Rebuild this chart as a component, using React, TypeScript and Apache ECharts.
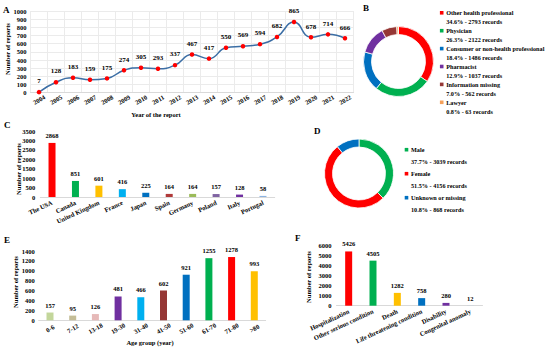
import React, { useEffect, useRef } from "react";
import * as echarts from "echarts";

const years = ["2004","2005","2006","2007","2008","2009","2010","2011","2012","2013","2014","2015","2016","2017","2018","2019","2020","2021","2022"];
const yearReports = [7,128,183,159,175,274,305,293,337,467,417,550,569,594,682,865,678,714,666];

const reporterTypes = ["Other health professional","Physician","Consumer or non-health professional","Pharmacist","Information missing","Lawyer"];
const reporterCounts = [2793,2122,1486,1037,562,63];
const reporterColors = ["#FF0000","#00B050","#0070C0","#7030A0","#953735","#F5A05A"];

const countries = ["The USA","Canada","United Kingdom","France","Japan","Spain","Germany","Poland","Italy","Portugal"];
const countryReports = [2868,851,601,416,225,164,164,157,128,58];
const countryColors = ["#FF0000","#00B050","#FFC000","#00B0F0","#0070C0","#B03A3A","#9BBB59","#8064A2","#7030A0","#8DB4E2"];

const sexes = ["Male","Female","Unknown or missing"];
const sexReports = [3039,4156,868];
const sexColors = ["#00B050","#FF0000","#0070C0"];

const ageGroups = ["0-6","7-12","13-18","19-30","31-40","41-50","51-60","61-70","71-80",">80"];
const ageReports = [157,95,126,481,466,602,921,1255,1278,993];
const ageColors = ["#C3D69B","#C4BD97","#E6B9B8","#7030A0","#00B0F0","#953735","#0070C0","#00B050","#FF0000","#FFC000"];

const outcomes = ["Hospitalization","Other serious condition","Death","Life threatening condition","Disability","Congenital anomaly"];
const outcomeReports = [5426,4505,1282,758,280,12];
const outcomeColors = ["#FF0000","#00B050","#FFC000","#0070C0","#7030A0","#9DC3E6"];

const FONT = '"Liberation Serif", "Times New Roman", serif';
const FS = 6.5;
const lbl = { fontFamily: FONT, fontWeight: "bold" as const, fontSize: FS, color: "#000" };
const font = (s: number) => `bold ${s}px ${FONT}`;
const plain = (v: number) => String(v);

function txt(text: string, x: number, y: number, size = FS, align = "left", rotation = 0) {
  return {
    type: "text", x, y, rotation, silent: true,
    style: { text, x: 0, y: 0, font: font(size), fill: "#000", align, verticalAlign: "middle" },
  };
}

function legend(names: string[], values: number[], colors: string[], sqX: number, y0: number, step: number, lineGap: number) {
  const total = values.reduce((a, b) => a + b, 0);
  const els: any[] = [];
  names.forEach((n, i) => {
    const y = y0 + i * step;
    els.push({ type: "rect", silent: true, shape: { x: sqX - 1.8, y: y - 1.8, width: 3.6, height: 3.6 }, style: { fill: colors[i] } });
    els.push(txt(n, sqX + 4.5, y, 6.2));
    els.push(txt(`${((values[i] / total) * 100).toFixed(1)}% - ${values[i]} records`, sqX + 4.5, y + lineGap, 6.2));
  });
  return els;
}

export default function App() {
  const ref = useRef<HTMLDivElement>(null);
  useEffect(() => {
    document.body.style.margin = "0";
    const chart = echarts.init(ref.current!, null, { renderer: "svg" });
    const catAxisBase = {
      type: "category", axisTick: { show: false },
      axisLine: { lineStyle: { color: "#D9D9D9", width: 1 } },
    };
    const barSeries = (xi: number, data: number[], colors: string[]) => ({
      type: "bar", xAxisIndex: xi, yAxisIndex: xi, data, barWidth: 7,
      itemStyle: { color: (p: any) => colors[p.dataIndex] },
      label: { show: true, position: "top", distance: 4, ...lbl },
      emphasis: { disabled: true },
    });
    const option: any = {
      animation: false,
      backgroundColor: "#fff",
      textStyle: { fontFamily: FONT },
      grid: [
        { left: 30.5, top: 11, width: 323, height: 81.7 },
        { left: 40.3, top: 131, width: 234.4, height: 66 },
        { left: 38.65, top: 251, width: 227, height: 69.3 },
        { left: 336.5, top: 245.7, width: 146, height: 60 },
      ],
      xAxis: [
        { ...catAxisBase, gridIndex: 0, data: years, boundaryGap: true,
          splitLine: { show: true, lineStyle: { color: "#EBEBEB" } },
          axisLabel: { ...lbl, interval: 0, rotate: 30, align: "center", verticalAlign: "middle", margin: 7 } },
        { ...catAxisBase, gridIndex: 1, data: countries,
          axisLabel: { ...lbl, interval: 0, rotate: 25, margin: 5 } },
        { ...catAxisBase, gridIndex: 2, data: ageGroups,
          axisLabel: { ...lbl, interval: 0, rotate: 30, align: "center", verticalAlign: "middle", margin: 8 } },
        { ...catAxisBase, gridIndex: 3, data: outcomes,
          axisLabel: { ...lbl, interval: 0, rotate: 25, margin: 5 } },
      ],
      yAxis: [
        { type: "value", gridIndex: 0, min: 0, max: 1000, interval: 100,
          splitLine: { lineStyle: { color: "#EBEBEB" } }, axisLabel: { ...lbl, margin: 4, formatter: plain } },
        { type: "value", gridIndex: 1, min: 0, max: 3500, interval: 500,
          splitLine: { show: false }, axisLabel: { ...lbl, margin: 5, formatter: plain } },
        { type: "value", gridIndex: 2, min: 0, max: 1400, interval: 200,
          splitLine: { show: false }, axisLabel: { ...lbl, margin: 4, formatter: plain } },
        { type: "value", gridIndex: 3, min: 0, max: 6000, interval: 1000,
          splitLine: { show: false }, axisLabel: { ...lbl, margin: 5, formatter: plain } },
      ],
      series: [
        { type: "line", xAxisIndex: 0, yAxisIndex: 0, data: yearReports, smooth: true,
          lineStyle: { color: "#3B6EA5", width: 1.5 }, symbol: "circle", symbolSize: 4.5,
          itemStyle: { color: "#FF0000" },
          label: { show: true, position: "top", distance: 5, ...lbl, fontSize: 7 },
          emphasis: { disabled: true } },
        barSeries(1, countryReports, countryColors),
        barSeries(2, ageReports, ageColors),
        barSeries(3, outcomeReports, outcomeColors),
        { type: "pie", center: [398.5, 61.5], radius: [27, 35], startAngle: 90, clockwise: true,
          label: { show: false }, labelLine: { show: false }, emphasis: { disabled: true },
          itemStyle: { borderColor: "#fff", borderWidth: 0.8 },
          data: reporterTypes.map((n, i) => ({ name: n, value: reporterCounts[i], itemStyle: { color: reporterColors[i] } })) },
        { type: "pie", center: [359, 173.5], radius: [26.5, 34.5], startAngle: 90, clockwise: true,
          label: { show: false }, labelLine: { show: false }, emphasis: { disabled: true },
          itemStyle: { borderColor: "#fff", borderWidth: 0.8 },
          data: sexes.map((n, i) => ({ name: n, value: sexReports[i], itemStyle: { color: sexColors[i] } })) },
      ],
      graphic: [
        txt("A", 3, 9.5, 9),
        txt("B", 363, 8, 9),
        txt("C", 4, 125, 9),
        txt("D", 314, 131, 9),
        txt("E", 4, 240, 9),
        txt("F", 295, 238, 9),
        txt("Number of reports", 7, 49, FS, "center", Math.PI / 2),
        txt("Year of the report", 156, 114.5, FS, "center"),
        txt("Number of reports", 18, 169, FS, "center", Math.PI / 2),
        txt("Number of reports", 15, 282, FS, "center", Math.PI / 2),
        txt("Age group (year)", 150, 342, FS, "center"),
        txt("Number of reports", 308, 277, FS, "center", Math.PI / 2),
        ...legend(reporterTypes, reporterCounts, reporterColors, 441.7, 12.8, 17.9, 9),
        ...legend(sexes, sexReports, sexColors, 406.5, 149.7, 24, 12),
      ],
    };
    chart.setOption(option);
    return () => chart.dispose();
  }, []);
  return <div ref={ref} style={{ width: 550, height: 349 }} />;
}
